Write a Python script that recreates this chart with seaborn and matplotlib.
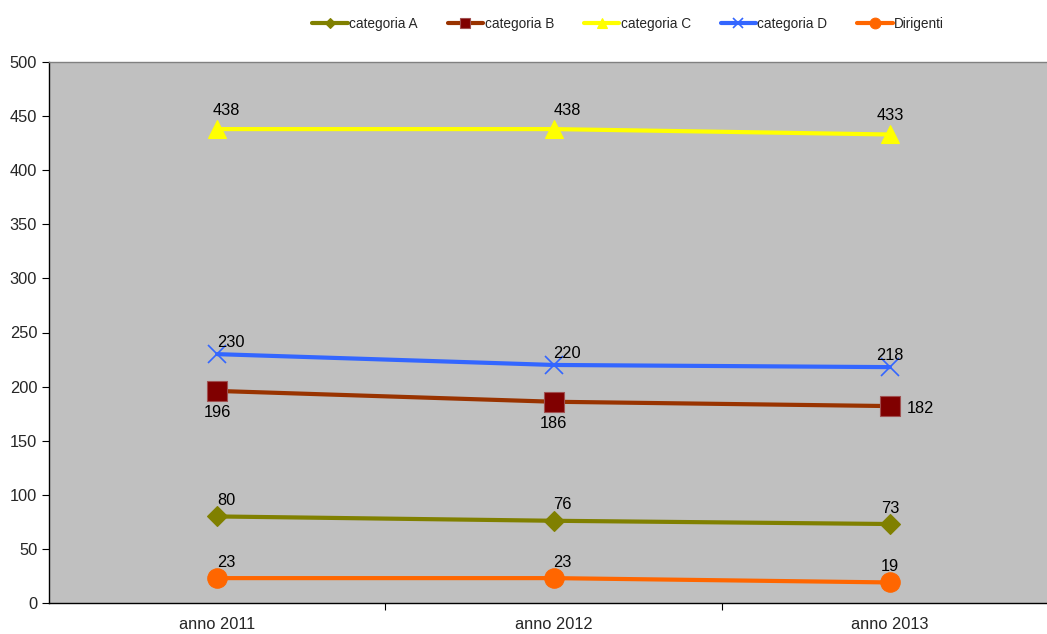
import pandas as pd
import matplotlib
matplotlib.use('Agg')
import matplotlib.pyplot as plt
import seaborn as sns

anni = ['anno 2011', 'anno 2012', 'anno 2013']
cat_a = [80, 76, 73]
cat_b = [196, 186, 182]
cat_c = [438, 438, 433]
cat_d = [230, 220, 218]
dirigenti = [23, 23, 19]

series = ['categoria A', 'categoria B', 'categoria C', 'categoria D', 'Dirigenti']
values = [cat_a, cat_b, cat_c, cat_d, dirigenti]

sns.set_style('white')
plt.rcParams['font.family'] = ['Liberation Sans', 'DejaVu Sans']

df = pd.DataFrame({'anno': anni * len(series),
                   'x': list(range(len(anni))) * len(series),
                   'serie': [s for s in series for _ in anni],
                   'valore': [v for vals in values for v in vals]})

# line colour, marker, marker face, marker edge, marker size
styles = {
    'categoria A': ('#808000', 'D', '#808000', '#808000', 10),
    'categoria B': ('#993300', 's', '#800000', '#A05050', 14),
    'categoria C': ('#FFFF00', '^', '#FFFF00', '#FFFF00', 13),
    'categoria D': ('#3366FF', 'x', '#3366FF', '#3366FF', 13),
    'Dirigenti': ('#FF6600', 'o', '#FF6600', '#FF6600', 14),
}
# label offsets in points
offsets = {
    'categoria A': [(0, 6, 'left'), (0, 6, 'left'), (0, 6, 'center')],
    'categoria B': [(0, -21, 'center'), (0, -21, 'center'), (12, -7, 'left')],
    'categoria C': [(-3, 8, 'left'), (0, 8, 'left'), (0, 8, 'center')],
    'categoria D': [(0, 3, 'left'), (0, 3, 'left'), (0, 3, 'center')],
    'Dirigenti': [(0, 6, 'left'), (0, 6, 'left'), (0, 6, 'center')],
}

fig = plt.figure(figsize=(10.47, 6.34), dpi=100)
ax = fig.add_axes([49 / 1047, 31 / 634, 1009 / 1047, 541 / 634])
ax.set_facecolor('#C0C0C0')

for s in series:
    col, mk, mfc, mec, ms = styles[s]
    sub = df[df['serie'] == s]
    sns.lineplot(data=sub, x='x', y='valore', ax=ax, color=col, linewidth=3,
                 marker=mk, markersize=ms, markerfacecolor=mfc, markeredgecolor=mec,
                 markeredgewidth=1.2 if mk == 'x' else 0.8, label=s, legend=False)
    for i, (xv, yv) in enumerate(zip(sub['x'], sub['valore'])):
        dx, dy, ha = offsets[s][i]
        ax.annotate(str(yv), (xv, yv), xytext=(dx, dy), textcoords='offset points',
                    ha=ha, va='bottom', fontsize=11.8, color='black')

ax.set_xlim(-0.5, 2.5)
ax.set_ylim(0, 500)
ax.set_yticks(range(0, 501, 50))
ax.set_xticks([0.5, 1.5], minor=False)
ax.set_xticklabels(['', ''])
ax.set_xticks([0, 1, 2], minor=True)
ax.set_xticklabels(anni, minor=True)
ax.tick_params(axis='x', which='minor', length=0, pad=10, labelsize=11.8)
ax.tick_params(axis='x', which='major', length=5, direction='out', bottom=True, color='black')
ax.tick_params(axis='y', length=5, direction='out', left=True, labelsize=11.8, color='black')
ax.set_xlabel('')
ax.set_ylabel('')
for side in ['left', 'bottom']:
    ax.spines[side].set_color('black')
    ax.spines[side].set_linewidth(1)
ax.spines['top'].set_color('#808080')
ax.spines['top'].set_linewidth(1)
ax.spines['right'].set_visible(False)

handles, labels = ax.get_legend_handles_labels()
fig.legend(handles, labels, loc='center', bbox_to_anchor=(0.6, 0.962), ncol=5,
           frameon=False, fontsize=9.8, handlelength=2.6, handletextpad=0.1,
           columnspacing=2.2, markerscale=0.55)

fig.savefig('out.png', dpi=100)
